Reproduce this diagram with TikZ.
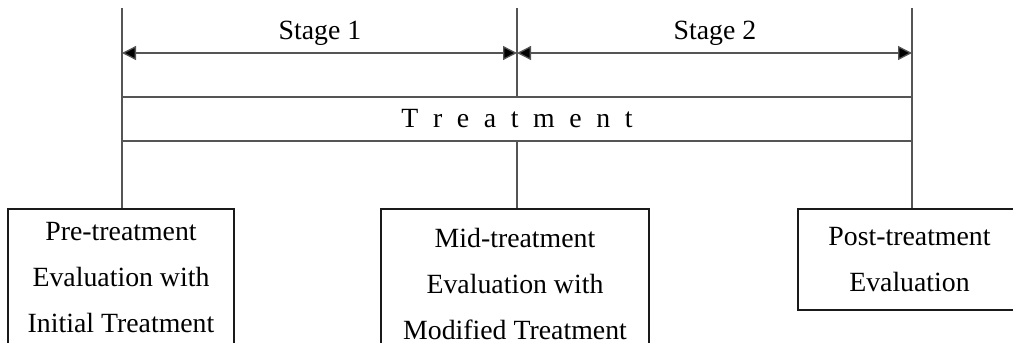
\documentclass[tikz,border=0pt]{standalone}
\usepackage{fontspec}
\setmainfont{Liberation Serif}
\usepackage{xcolor}
\usepackage{tikz}
\usetikzlibrary{arrows.meta, positioning, calc}
\definecolor{guidegrey}{HTML}{555555}
\definecolor{boxblack}{HTML}{1A1A1A}

\begin{document}
\begin{tikzpicture}[x=0.5pt, y=-0.5pt,
  every node/.style={font=\fontsize{13.9}{23}\selectfont},
  guide/.style={draw=guidegrey, line width=0.65pt},
  evalbox/.style={draw=boxblack, line width=1pt, fill=white, align=center,
    anchor=north, inner sep=0pt},
  stagearrow/.style={{Triangle[length=7pt,width=7pt,fill=black]}-{Triangle[length=7pt,width=7pt,fill=black]},
    draw=guidegrey, line width=0.65pt}]
  \clip (0,0) rectangle (1013,343);
  % time marks
  \coordinate (left) at (122,8);
  \coordinate (middle) at (517,8);
  \coordinate (right) at (912,8);
  \coordinate (al) at (122,53);
  \coordinate (am) at (517,53);
  \coordinate (ar) at (912,53);
  \node (stage1) at (320,33) {Stage 1};
  \node (stage2) at (715,33) {Stage 2};
  % evaluations
  \node[evalbox, minimum width=113pt, minimum height=69pt] (pre) at (121,208)
    {Pre-treatment\\Evaluation with\\Initial Treatment};
  \node[evalbox, minimum width=134pt, minimum height=75pt] (mid) at (515,208)
    {Mid-treatment\\Evaluation with\\Modified Treatment};
  \node[evalbox, minimum width=111.5pt, minimum height=50.5pt] (post) at (909.5,208)
    {Post-treatment\\Evaluation};
  \draw[guide] (left) -- (left |- pre.north);
  \draw[guide] (middle) -- (middle |- mid.north);
  \draw[guide] (right) -- (right |- post.north);
  \draw[stagearrow] (al) -- (am);
  \draw[stagearrow] (am) -- (ar);
  \node[guide, fill=white, minimum width=395pt, minimum height=22pt, inner sep=0pt] (treat) at (517,119)
    {\spaceskip=7.3pt T r e a t m e n t};
\end{tikzpicture}
\end{document}
